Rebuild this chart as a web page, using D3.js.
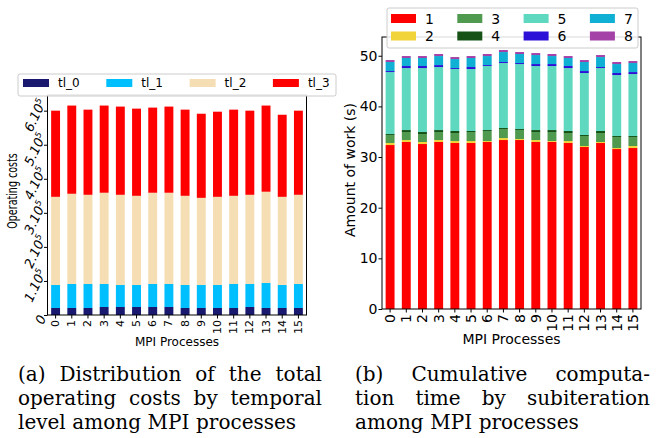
<!DOCTYPE html>
<html>
<head>
<meta charset="utf-8">
<script src="https://cdn.jsdelivr.net/npm/d3@7"></script>
<style>
  body { margin: 0; background: #fff; }
</style>
</head>
<body>
<div id="chart"></div>
<script>
// categories: MPI process ranks
var procs = ["0","1","2","3","4","5","6","7","8","9","10","11","12","13","14","15"];

// (a) operating costs per temporal level (stacked)
var levelKeys = ["tl_0", "tl_1", "tl_2", "tl_3"];
var tl0 = [20600,20600,20600,23500,23500,23500,23500,23500,20600,20600,20600,20600,23500,20600,20600,20600];
var tl1 = [67600,70600,70600,67700,64700,64700,67700,67700,67600,67600,67600,70600,67700,73500,67600,70600];
var tl2 = [258800,264800,261800,267800,264800,261800,267800,267800,261800,255800,258800,258800,261800,267900,258800,261800];
var tl3 = [253000,259000,250000,256000,259000,256000,250000,253000,253000,247000,250000,253000,247000,253000,241000,247000];
var costTicks = [0, 100000, 200000, 300000, 400000, 500000, 600000];

// (b) amount of work (s) per subiteration (stacked)
var subKeys = ["1","2","3","4","5","6","7","8"];
var w1 = [32.37,32.97,32.57,32.97,32.77,32.77,32.97,33.36,33.36,32.97,32.97,32.77,31.98,32.77,31.58,31.78];
var w2 = [0.40,0.39,0.40,0.39,0.39,0.39,0.19,0.39,0.20,0.39,0.19,0.39,0.20,0.20,0.20,0.40];
var w3 = [1.58,1.58,1.57,1.58,1.58,1.78,1.98,1.78,1.77,1.58,1.78,1.58,1.97,1.77,2.17,1.77];
var w4 = [0.19,0.39,0.40,0.39,0.40,0.20,0.19,0.20,0.20,0.39,0.39,0.40,0.20,0.40,0.20,0.20];
var w5 = [12.24,12.24,12.63,12.44,12.24,12.24,12.64,12.83,12.83,12.64,12.64,12.43,12.24,12.43,12.04,12.24];
var w6 = [0.20,0.40,0.40,0.39,0.19,0.39,0.19,0.20,0.20,0.39,0.39,0.40,0.39,0.20,0.40,0.39];
var w7 = [1.78,1.58,1.58,1.78,1.78,1.78,1.78,1.97,1.78,1.78,1.58,1.58,1.78,1.97,1.77,1.78];
var w8 = [0.39,0.39,0.39,0.40,0.39,0.39,0.40,0.40,0.39,0.39,0.40,0.39,0.39,0.40,0.40,0.39];
var workTicks = [0, 10, 20, 30, 40, 50];

var levelColors = ["#191970", "#00bfff", "#f5deb3", "#ff0000"];
var subColors = ["#ff0000", "#f0d43a", "#509a50", "#165216", "#5fd8c0", "#2c10d8", "#10b0d4", "#a442a8"];

var W = 658, H = 438;
var svg = d3.select("#chart").append("svg")
    .attr("width", W)
    .attr("height", H)
    .style("font-family", "'DejaVu Sans', sans-serif");

// ---------- left chart ----------
var L = {left: 47.5, right: 306.5, top: 95, bottom: 315};

var rowsL = procs.map(function(p, i) {
  return {proc: p, tl_0: tl0[i], tl_1: tl1[i], tl_2: tl2[i], tl_3: tl3[i]};
});
var xL = d3.scaleBand().domain(procs).range([L.left, L.right]).paddingInner(0.45).paddingOuter(0.225);
var yL = d3.scaleLinear().domain([0, 646000]).range([L.bottom, L.top]);
var colorL = d3.scaleOrdinal().domain(levelKeys).range(levelColors);

var gL = svg.append("g");
gL.selectAll("g.layer")
  .data(d3.stack().keys(levelKeys)(rowsL))
  .enter().append("g")
    .attr("fill", function(d) { return colorL(d.key); })
  .selectAll("rect")
  .data(function(d) { return d; })
  .enter().append("rect")
    .attr("x", function(d) { return xL(d.data.proc); })
    .attr("y", function(d) { return yL(d[1]); })
    .attr("width", xL.bandwidth())
    .attr("height", function(d) { return yL(d[0]) - yL(d[1]); });

// x axis
var axL = gL.append("g")
    .attr("transform", "translate(0," + L.bottom + ")")
    .call(d3.axisBottom(xL).tickSize(3.5).tickSizeOuter(0));
axL.select(".domain").remove();
axL.selectAll(".tick text")
    .attr("font-size", 11)
    .attr("font-family", "'DejaVu Sans', sans-serif")
    .attr("text-anchor", "end")
    .attr("x", 0).attr("y", 0).attr("dy", 0)
    .attr("dominant-baseline", "central")
    .attr("transform", "translate(0,5) rotate(-90)");

// y axis, rotated "n.10^5" labels
var ayL = gL.append("g")
    .attr("transform", "translate(" + L.left + ",0)")
    .call(d3.axisLeft(yL).tickValues(costTicks).tickSize(3.5).tickSizeOuter(0));
ayL.select(".domain").remove();
ayL.selectAll(".tick text").each(function(d) {
  var t = d3.select(this).text(null)
      .attr("font-size", 13)
      .attr("font-style", "italic")
      .attr("font-family", "'DejaVu Sans', sans-serif")
      .attr("text-anchor", "end")
      .attr("x", 0).attr("dy", 0).attr("y", 0);
  if (d === 0) {
    t.text("0");
  } else {
    t.append("tspan").text((d / 100000) + ".10");
    t.append("tspan").attr("dy", -5).attr("font-size", 8.5).text("5");
  }
  var len = this.getComputedTextLength();
  var a = 65 * Math.PI / 180;
  t.attr("transform", "translate(-1," + (-len * Math.sin(a) / 2 + 6) + ") rotate(-65)");
});

// frame
gL.append("rect")
    .attr("x", L.left).attr("y", L.top)
    .attr("width", L.right - L.left).attr("height", L.bottom - L.top)
    .attr("fill", "none").attr("stroke", "#000").attr("stroke-width", 1);

gL.append("text")
    .attr("transform", "translate(12,191) rotate(-90) scale(0.68,1)")
    .attr("text-anchor", "middle")
    .attr("dominant-baseline", "central")
    .attr("font-size", 14)
    .text("Operating costs");
gL.append("text")
    .attr("x", (L.left + L.right) / 2).attr("y", 346)
    .attr("text-anchor", "middle")
    .attr("font-size", 12)
    .text("MPI Processes");

// legend (a)
var legL = gL.append("g");
legL.append("rect")
    .attr("x", 18).attr("y", 74).attr("width", 318).attr("height", 22).attr("rx", 2)
    .attr("fill", "#fff").attr("fill-opacity", 0.85).attr("stroke", "#ccc");
levelKeys.forEach(function(k, i) {
  var lx = 23 + i * 83.3;
  legL.append("rect").attr("x", lx).attr("y", 79).attr("width", 26).attr("height", 8).attr("fill", colorL(k));
  legL.append("text").attr("x", lx + 35).attr("y", 83).attr("dominant-baseline", "central")
      .attr("font-size", 12).text(k);
});

// ---------- right chart ----------
var R = {left: 382, right: 641, top: 37, bottom: 309};
var work = [w1, w2, w3, w4, w5, w6, w7, w8];
var rowsR = procs.map(function(p, i) {
  var r = {proc: p};
  subKeys.forEach(function(k, j) { r[k] = work[j][i]; });
  return r;
});
var xR = d3.scaleBand().domain(procs).range([R.left, R.right]).paddingInner(0.45).paddingOuter(0.225);
var yR = d3.scaleLinear().domain([0, 53.7]).range([R.bottom, R.top]);
var colorR = d3.scaleOrdinal().domain(subKeys).range(subColors);

var gR = svg.append("g");
gR.selectAll("g.layer")
  .data(d3.stack().keys(subKeys)(rowsR))
  .enter().append("g")
    .attr("fill", function(d) { return colorR(d.key); })
  .selectAll("rect")
  .data(function(d) { return d; })
  .enter().append("rect")
    .attr("x", function(d) { return xR(d.data.proc); })
    .attr("y", function(d) { return yR(d[1]); })
    .attr("width", xR.bandwidth())
    .attr("height", function(d) { return yR(d[0]) - yR(d[1]); });

var axR = gR.append("g")
    .attr("transform", "translate(0," + R.bottom + ")")
    .call(d3.axisBottom(xR).tickSize(3.5).tickSizeOuter(0));
axR.select(".domain").remove();
axR.selectAll(".tick text")
    .attr("font-size", 14)
    .attr("font-family", "'DejaVu Sans', sans-serif")
    .attr("text-anchor", "end")
    .attr("x", 0).attr("y", 0).attr("dy", 0)
    .attr("dominant-baseline", "central")
    .attr("transform", "translate(0,5) rotate(-90)");

var ayR = gR.append("g")
    .attr("transform", "translate(" + R.left + ",0)")
    .call(d3.axisLeft(yR).tickValues(workTicks).tickSize(3.5).tickSizeOuter(0));
ayR.select(".domain").remove();
ayR.selectAll(".tick text")
    .attr("font-size", 14)
    .attr("font-family", "'DejaVu Sans', sans-serif")
    .attr("x", -4.5);

gR.append("rect")
    .attr("x", R.left).attr("y", R.top)
    .attr("width", R.right - R.left).attr("height", R.bottom - R.top)
    .attr("fill", "none").attr("stroke", "#000").attr("stroke-width", 1);

gR.append("text")
    .attr("transform", "translate(350,170) rotate(-90)")
    .attr("text-anchor", "middle")
    .attr("dominant-baseline", "central")
    .attr("font-size", 14)
    .text("Amount of work (s)");
gR.append("text")
    .attr("x", (R.left + R.right) / 2).attr("y", 344)
    .attr("text-anchor", "middle")
    .attr("font-size", 14)
    .text("MPI Processes");

// legend (b)
var legR = gR.append("g");
legR.append("rect")
    .attr("x", 387).attr("y", 8).attr("width", 251).attr("height", 40).attr("rx", 2)
    .attr("fill", "#fff").attr("fill-opacity", 0.85).attr("stroke", "#ccc");
subKeys.forEach(function(k, i) {
  var col = Math.floor(i / 2), row = i % 2;
  var lx = 391 + col * 66.3, ly = 14 + row * 17.5;
  legR.append("rect").attr("x", lx).attr("y", ly).attr("width", 25).attr("height", 9).attr("fill", colorR(k));
  legR.append("text").attr("x", lx + 34).attr("y", ly + 4.5).attr("dominant-baseline", "central")
      .attr("font-size", 14).text(k);
});

// ---------- captions (justified like the paper) ----------
var capFont = "'DejaVu Serif', serif", capSize = 20;
function captionLine(x, y, words, width) {
  var t = svg.append("text").attr("y", y)
      .attr("font-family", capFont).attr("font-size", capSize).attr("fill", "#000");
  var spans = words.map(function(w) { return t.append("tspan").text(w); });
  var lens = spans.map(function(s) { return s.node().getComputedTextLength(); });
  var total = d3.sum(lens);
  var gap = width ? (width - total) / (words.length - 1)
                  : capSize * 0.33;
  var cx = x;
  spans.forEach(function(s, i) { s.attr("x", cx); cx += lens[i] + gap; });
}
captionLine(18, 381, ["(a)", "Distribution", "of", "the", "total"], 304);
captionLine(18, 405, ["operating", "costs", "by", "temporal"], 304);
captionLine(18, 429, ["level", "among", "MPI", "processes"], 0);
captionLine(355, 381, ["(b)", "Cumulative", "computa-"], 295);
captionLine(355, 405, ["tion", "time", "by", "subiteration"], 295);
captionLine(355, 429, ["among", "MPI", "processes"], 0);
</script>
</body>
</html>
